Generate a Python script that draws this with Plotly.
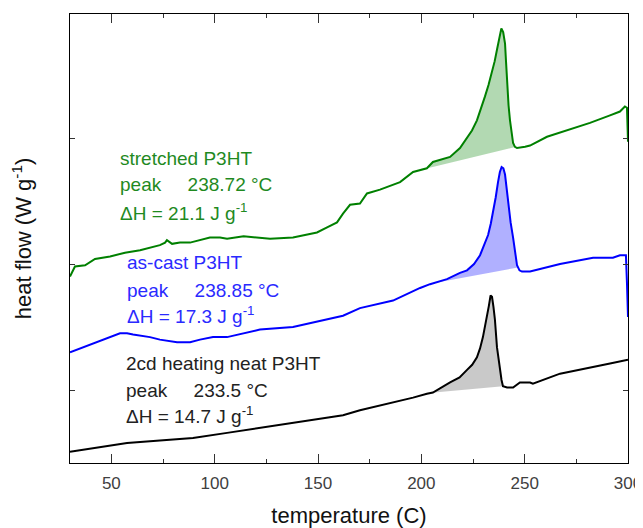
import numpy as np
import plotly.graph_objects as go

# temperature (C) and heat flow (arbitrary offset units)
t_stretched = [30.0, 32.4, 37.3, 42.1, 49.4, 56.6, 63.9, 68.7, 73.5, 76.0, 76.9, 79.4, 83.2, 88.1,
               92.9, 97.7, 102.6, 106.0, 114.0, 121.9, 126.8, 137.9, 149.5, 154.4, 159.2, 162.1,
               165.5, 170.3, 173.7, 180.0, 189.7, 196.0, 202.7, 205.6, 213.9, 218.7, 222.1, 224.5,
               226.9, 228.9, 230.8, 232.5, 234.2, 235.5, 236.6, 237.7, 238.72, 239.6, 240.5, 241.0,
               241.5, 242.2, 242.9, 243.7, 244.4, 245.3, 246.3, 250.2, 252.6, 260.8,
               270.5, 281.6, 291.3, 296.1, 298.5, 299.5, 300.0]
hf_stretched = [0.90, 0.98, 0.99, 1.04, 1.06, 1.09, 1.11, 1.13, 1.15, 1.17, 1.19, 1.16, 1.17, 1.17,
                1.19, 1.21, 1.21, 1.20, 1.22, 1.21, 1.20, 1.21, 1.25, 1.29, 1.33, 1.40,
                1.47, 1.48, 1.56, 1.59, 1.65, 1.73, 1.76, 1.81, 1.85, 1.92, 2.00, 2.06,
                2.14, 2.23, 2.33, 2.42, 2.52, 2.61, 2.70, 2.80, 2.87, 2.84, 2.75, 2.60,
                2.40, 2.26, 2.14, 2.03, 1.96, 1.93, 1.92, 1.93, 1.94, 2.01,
                2.06, 2.12, 2.18, 2.21, 2.25, 2.24, 1.97]

t_ascast = [30.0, 34.8, 41.1, 47.9, 54.2, 57.6, 60.5, 68.7, 73.5, 81.8, 88.1, 92.9, 99.2, 106.0,
            121.9, 137.9, 154.4, 162.1, 170.3, 186.3, 199.4, 204.2, 212.4, 218.7, 222.1, 225.5,
            228.4, 230.5, 232.3, 233.6, 234.7, 236.0, 237.1, 238.0, 238.85, 239.7, 240.5, 241.3,
            242.0, 243.2, 244.4, 245.4, 246.3, 247.5, 248.7, 252.6, 267.1, 283.1,
            292.7, 296.1, 299.0, 299.5, 300.0]
hf_ascast = [0.30, 0.33, 0.37, 0.41, 0.45, 0.45, 0.44, 0.42, 0.40, 0.38, 0.38, 0.40, 0.42, 0.42,
             0.48, 0.50, 0.56, 0.59, 0.65, 0.71, 0.81, 0.84, 0.88, 0.93, 0.95, 1.00,
             1.07, 1.15, 1.23, 1.32, 1.41, 1.53, 1.65, 1.73, 1.77, 1.76, 1.71, 1.60,
             1.47, 1.33, 1.21, 1.09, 0.99, 0.95, 0.94, 0.94, 1.00, 1.05,
             1.05, 1.07, 1.07, 0.85, 0.58]

t_neat = [30.0, 41.1, 57.6, 73.5, 89.5, 106.0, 121.9, 137.9, 154.4, 162.1, 170.3, 186.3, 196.0,
          202.7, 205.6, 213.9, 218.5, 222.1, 224.6, 226.9, 228.4, 229.8, 230.8, 231.8, 232.7,
          233.5, 234.2, 234.9, 235.6, 236.6, 237.4, 238.1, 238.8, 239.5, 241.5, 244.4, 247.7,
          252.6, 254.0, 267.1, 283.1, 291.3, 300.0]
hf_neat = [-0.49, -0.46, -0.42, -0.40, -0.38, -0.34, -0.30, -0.26, -0.22, -0.20, -0.16, -0.10, -0.06,
           -0.03, -0.02, 0.06, 0.10, 0.16, 0.20, 0.26, 0.33, 0.42, 0.50, 0.58, 0.67,
           0.75, 0.74, 0.66, 0.56, 0.34, 0.24, 0.16, 0.08, 0.03, 0.02, 0.02, 0.06,
           0.06, 0.05, 0.13, 0.18, 0.21, 0.24]

# integration limits of the melting peaks
limits_stretched = [200.0, 245.5]
limits_ascast = [205.6, 246.8]
limits_neat = [205.0, 239.5]

labels_stretched = ["stretched P3HT", "peak     238.72 °C", "ΔH = 21.1 J g<sup>-1</sup>"]
labels_ascast = ["as-cast P3HT", "peak     238.85 °C", "ΔH = 17.3 J g<sup>-1</sup>"]
labels_neat = ["2cd heating neat P3HT", "peak     233.5 °C", "ΔH = 14.7 J g<sup>-1</sup>"]

series = [
    (t_stretched, hf_stretched, limits_stretched, "#008000", "rgba(0,128,0,0.30)", "#1f8a1f",
     labels_stretched, 53.2, [1.84, 1.63, 1.41]),
    (t_ascast, hf_ascast, limits_ascast, "#0000ff", "rgba(0,0,255,0.31)", "#2a2aff",
     labels_ascast, 56.6, [1.01, 0.79, 0.595]),
    (t_neat, hf_neat, limits_neat, "#000000", "rgba(0,0,0,0.21)", "#222222",
     labels_neat, 56.1, [0.214, 0.0, -0.198]),
]

fig = go.Figure()
anns = []
for t, hf, lim, col, fillcol, txtcol, labels, lx, ly in series:
    t = np.array(t)
    hf = np.array(hf)
    inside = (t > lim[0]) & (t < lim[1])
    px_ = [lim[0]] + list(t[inside]) + [lim[1]]
    py_ = [np.interp(lim[0], t, hf)] + list(hf[inside]) + [np.interp(lim[1], t, hf)]
    fig.add_trace(go.Scatter(x=px_, y=py_, mode="lines", fill="toself", fillcolor=fillcol,
                             line=dict(width=0), hoverinfo="skip"))
    fig.add_trace(go.Scatter(x=t, y=hf, mode="lines", line=dict(color=col, width=2)))
    for txt, yy in zip(labels, ly):
        anns.append(dict(x=lx, y=yy, text=txt.replace("     ", "\u00a0" * 5), showarrow=False,
                         xanchor="left", yanchor="middle",
                         font=dict(size=19, color=txtcol, family="Liberation Sans, Arial")))

# page body has an 8px margin, so the figure is a bit smaller than the window
fig.update_layout(
    width=635, height=520,
    margin=dict(l=62, r=15, t=6, b=65),
    paper_bgcolor="white", plot_bgcolor="white",
    showlegend=False,
    annotations=anns,
    font=dict(family="Liberation Sans, Arial", color="#333333"),
)
fig.update_xaxes(
    range=[30, 300], tick0=0, dtick=50, ticks="inside", ticklen=9, tickcolor="#333333",
    tickfont=dict(size=17, color="#404040"), ticklabelstandoff=5, automargin=False,
    minor=dict(ticks="inside", dtick=25, ticklen=4, tickcolor="#333333"),
    showline=True, linecolor="black", linewidth=1, mirror="ticks", showgrid=False, zeroline=False,
    title=dict(text="temperature (C)", font=dict(size=22, color="#111111"), standoff=15),
)
fig.update_yaxes(
    range=[-0.579, 2.984], tickvals=[0, 1, 2], showticklabels=False, ticks="inside", ticklen=5,
    tickcolor="#333333", automargin=False,
    showline=True, linecolor="black", linewidth=1, mirror="ticks", showgrid=False, zeroline=False,
    title=dict(text="heat flow (W g<sup>-1</sup>)", font=dict(size=22, color="#111111"), standoff=34),
)

fig.write_html("out.html")
